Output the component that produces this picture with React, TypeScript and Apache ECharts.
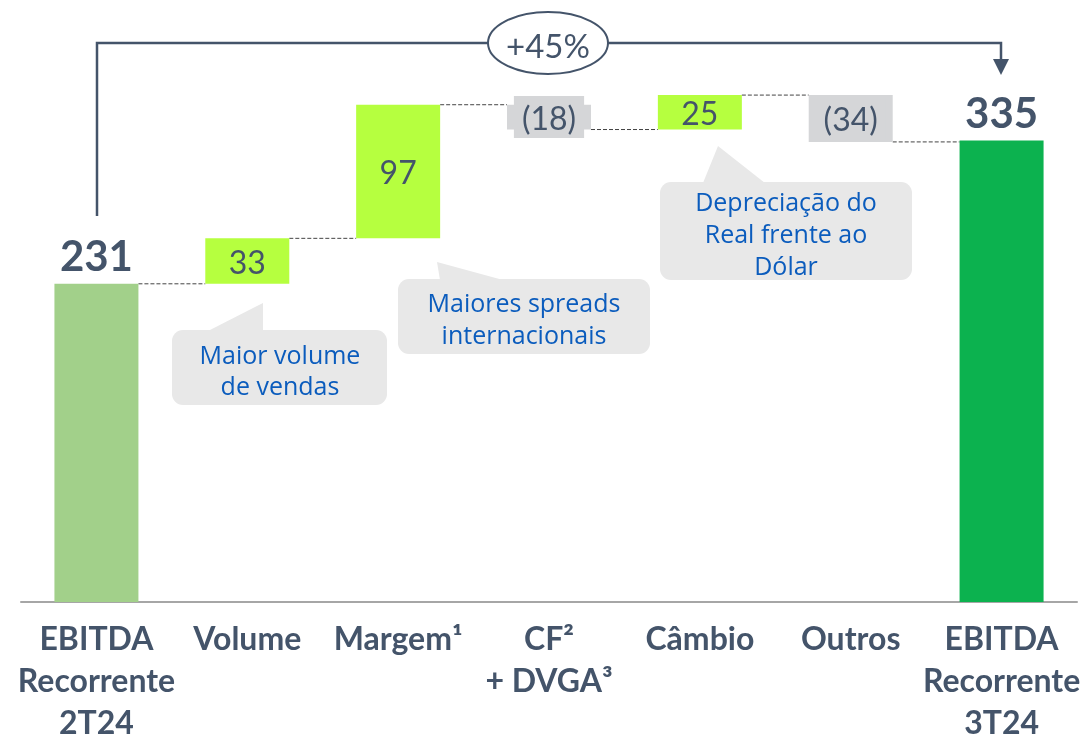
import React, { useEffect, useRef } from "react";
import * as echarts from "echarts";

const categories = [
  "EBITDA\nRecorrente\n2T24",
  "Volume",
  "Margem¹",
  "CF²\n+ DVGA³",
  "Câmbio",
  "Outros",
  "EBITDA\nRecorrente\n3T24",
];
const values = [231, 33, 97, -18, 25, -34, 335];
const kinds = ["start", "delta", "delta", "delta", "delta", "delta", "end"];
const growthLabel = "+45%";
const callouts = [
  "Maior volume\nde vendas",
  "Maiores spreads\ninternacionais",
  "Depreciação do\nReal frente ao\nDólar",
];

const TEXT = "#44546a";
const COLORS: Record<string, string> = {
  start: "#a2d08a",
  end: "#0cb24f",
  pos: "#b6ff3f",
  neg: "#d5d6d8",
};
const BAR_W = 84;
const FONT = "Lato, 'Open Sans', sans-serif";
const CALLOUT_FONT = "'Open Sans', 'Noto Sans', sans-serif";
const CALLOUT_FILL = "#e8e8e8";
const CALLOUT_TEXT = "#0b5cbd";

function buildSeries() {
  const base: number[] = [];
  const heights: any[] = [];
  const levels: number[] = [];
  let run = 0;
  values.forEach((v, i) => {
    const k = kinds[i];
    if (k === "start" || k === "end") {
      base.push(0);
      run = v;
      heights.push({
        value: v,
        itemStyle: { color: COLORS[k] },
        label: {
          show: true,
          position: "top",
          distance: 8,
          formatter: String(v),
          fontSize: 42,
          fontWeight: "bold",
          fontFamily: FONT,
          color: TEXT,
        },
      });
    } else {
      const neg = v < 0;
      base.push(neg ? run + v : run);
      run = run + v;
      heights.push({
        value: Math.abs(v),
        itemStyle: { color: neg ? COLORS.neg : COLORS.pos },
        label: {
          show: true,
          position: "inside",
          formatter: neg ? `(${Math.abs(v)})` : String(v),
          fontSize: 32,
          fontFamily: FONT,
          color: TEXT,
          backgroundColor: neg ? COLORS.neg : "transparent",
          padding: neg ? [5, 8] : 0,
        },
      });
    }
    levels.push(run);
  });
  return { base, heights, levels };
}

function callout(
  rect: [number, number, number, number],
  tail: number[][],
  text: string,
  cx: number,
  cy: number,
  lh: number
) {
  return {
    type: "group",
    children: [
      {
        type: "rect",
        shape: { x: rect[0], y: rect[1], width: rect[2], height: rect[3], r: 11 },
        style: { fill: CALLOUT_FILL },
      },
      {
        type: "polygon",
        shape: { points: tail },
        style: { fill: CALLOUT_FILL },
      },
      {
        type: "text",
        x: cx,
        y: cy,
        style: {
          text,
          fill: CALLOUT_TEXT,
          fontSize: 25,
          fontFamily: CALLOUT_FONT,
          textAlign: "center",
          textVerticalAlign: "middle",
          align: "center",
          verticalAlign: "middle",
          lineHeight: lh,
        },
      },
    ],
  };
}

export default function App() {
  const ref = useRef<HTMLDivElement>(null);
  useEffect(() => {
    document.body.style.margin = "0";
    const chart = echarts.init(ref.current!, undefined, { renderer: "svg" });
    const { base, heights, levels } = buildSeries();
    const connectors = levels.slice(0, levels.length - 1).map((l, i) => [i, l]);

    chart.setOption({
      animation: false,
      grid: {
        left: 21,
        right: 12,
        top: 51,
        bottom: 140,
        containLabel: false,
        outerBoundsMode: "none",
      },
      xAxis: {
        type: "category",
        data: categories,
        axisTick: { show: false },
        axisLine: { lineStyle: { color: "#a6a6a6", width: 2 } },
        axisLabel: {
          interval: 0,
          margin: 14,
          fontSize: 32,
          fontWeight: "bold",
          fontFamily: FONT,
          color: TEXT,
          lineHeight: 42,
        },
      },
      yAxis: {
        type: "value",
        min: 0,
        max: 400,
        show: false,
        splitLine: { show: false },
      },
      series: [
        {
          type: "bar",
          name: "base",
          stack: "wf",
          data: base,
          barWidth: BAR_W,
          itemStyle: { color: "transparent" },
          silent: true,
        },
        {
          type: "bar",
          name: "value",
          stack: "wf",
          data: heights,
          barWidth: BAR_W,
        },
        {
          type: "custom",
          name: "connectors",
          data: connectors,
          z: 1,
          renderItem: (params: any, api: any) => {
            const p = api.coord([api.value(0), api.value(1)]);
            const band = api.size([1, 0])[0];
            return {
              type: "line",
              shape: {
                x1: p[0] + BAR_W / 2,
                y1: p[1],
                x2: p[0] + band - BAR_W / 2,
                y2: p[1],
              },
              style: { stroke: "#444", lineWidth: 1, lineDash: [4, 2] },
            };
          },
        },
      ],
      graphic: [
        {
          type: "polyline",
          shape: { points: [[97, 216], [97, 43], [1001, 43], [1001, 62]] },
          style: { stroke: TEXT, lineWidth: 2.5, fill: "none" },
        },
        {
          type: "polygon",
          shape: { points: [[993, 59], [1009, 59], [1001, 75]] },
          style: { fill: TEXT },
        },
        {
          type: "ellipse",
          shape: { cx: 548, cy: 43, rx: 60, ry: 31 },
          style: { fill: "#fff", stroke: TEXT, lineWidth: 2 },
        },
        {
          type: "text",
          x: 548,
          y: 45,
          style: {
            text: growthLabel,
            fill: TEXT,
            fontSize: 33,
            fontFamily: FONT,
            textAlign: "center",
            textVerticalAlign: "middle",
            align: "center",
            verticalAlign: "middle",
          },
        },
        callout([172, 330, 215, 75], [[208, 331], [263, 331], [263, 303]], callouts[0], 280, 369, 31),
        callout([398, 279, 252, 75], [[437, 262], [440, 280], [503, 280]], callouts[1], 524, 318, 32),
        callout([660, 182, 252, 98], [[718, 146], [703, 183], [765, 183]], callouts[2], 786, 233, 32),
      ],
    });
    return () => chart.dispose();
  }, []);
  return (
    <div
      ref={ref}
      style={{ position: "fixed", left: 0, top: 0, width: 1089, height: 742 }}
    />
  );
}
